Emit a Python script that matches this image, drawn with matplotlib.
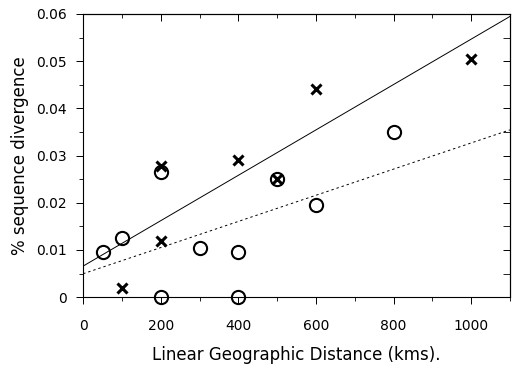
import numpy as np
import matplotlib
matplotlib.use("Agg")
import matplotlib.pyplot as plt
from matplotlib.ticker import MultipleLocator

plt.rcParams['font.family'] = ['DejaVu Sans']

# crosses
x_cross = [100, 200, 200, 400, 500, 600, 1000]
y_cross = [0.002, 0.012, 0.0278, 0.029, 0.025, 0.044, 0.0505]

# circles
x_circ = [50, 100, 200, 200, 300, 400, 400, 500, 600, 800]
y_circ = [0.0095, 0.0125, 0.0265, 0.0, 0.0105, 0.0095, 0.0, 0.025, 0.0195, 0.035]

xticks = [0, 200, 400, 600, 800, 1000]
yticks = [0, 0.01, 0.02, 0.03, 0.04, 0.05, 0.06]
ytick_labels = ['0', '0.01', '0.02', '0.03', '0.04', '0.05', '0.06']

fig = plt.figure(figsize=(5.13, 3.66), dpi=100)
ax = fig.add_axes([0.162, 0.188, 0.832, 0.774])

# regression lines for each group
xl = np.array([0, 1100])
b1 = np.polyfit(x_cross, y_cross, 1)
b2 = np.polyfit(x_circ, y_circ, 1)
ax.plot(xl, np.polyval(b1, xl), color='black', lw=0.7)
ax.plot(xl, np.polyval(b2, xl), color='black', lw=0.7, dashes=(2.5, 3))

ax.plot(x_circ, y_circ, 'o', ms=9.5, mfc='none', mec='black', mew=1.5, clip_on=False)
ax.plot(x_cross, y_cross, 'x', ms=7, mec='black', mew=2.2, clip_on=False)

ax.set_xlim(0, 1100)
ax.set_ylim(0, 0.06)
ax.set_xticks(xticks)
ax.set_yticks(yticks)
ax.set_yticklabels(ytick_labels)
ax.xaxis.set_minor_locator(MultipleLocator(100))
ax.yaxis.set_minor_locator(MultipleLocator(0.005))

ax.tick_params(axis='x', which='both', direction='out', labelsize=10, pad=11)
ax.tick_params(axis='y', which='both', direction='out', labelsize=10, pad=7)
ax.tick_params(which='major', length=5, width=0.7)
ax.tick_params(which='minor', length=3, width=0.6)

# inward ticks on top and right
sx = ax.secondary_xaxis('top')
sx.set_xticks(xticks)
sx.xaxis.set_minor_locator(MultipleLocator(100))
sx.tick_params(which='both', direction='in', labeltop=False)
sx.tick_params(which='major', length=5, width=0.7)
sx.tick_params(which='minor', length=3, width=0.6)
sy = ax.secondary_yaxis('right')
sy.set_yticks(yticks)
sy.yaxis.set_minor_locator(MultipleLocator(0.005))
sy.tick_params(which='both', direction='in', labelright=False)
sy.tick_params(which='major', length=5, width=0.7)
sy.tick_params(which='minor', length=5, width=0.6)
for s in list(ax.spines.values()) + [sx.spines['top'], sy.spines['right']]:
    s.set_linewidth(0.8)

ax.set_xlabel('Linear Geographic Distance (kms).', fontsize=12, labelpad=9)
ax.set_ylabel('% sequence divergence', fontsize=12, labelpad=5)

fig.savefig('out.png', dpi=100)
